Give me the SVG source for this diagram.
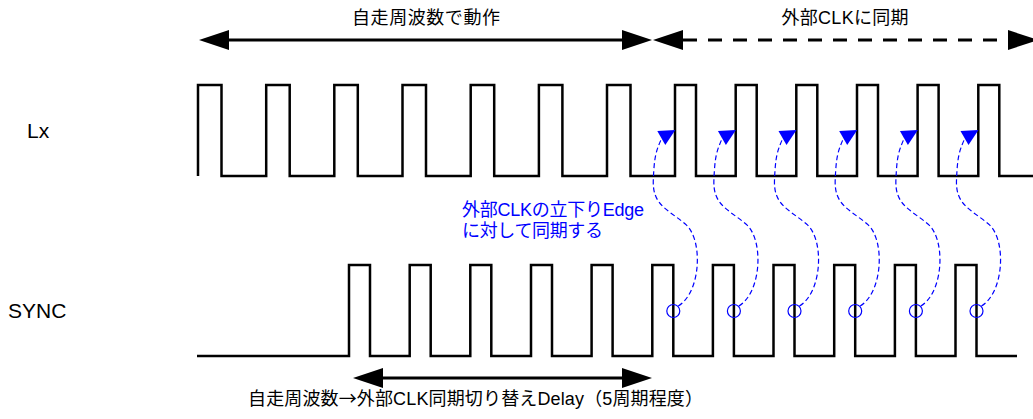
<svg xmlns="http://www.w3.org/2000/svg" xmlns:xlink="http://www.w3.org/1999/xlink" width="1033" height="419" viewBox="0 0 1033 419">
<style>
.wave{fill:none;stroke:#000;stroke-width:2.5;stroke-linejoin:miter}
.span{fill:none;stroke:#000;stroke-width:3}
.dash{stroke-dasharray:14,11}
.lbl{font-family:"Liberation Sans","Noto Sans CJK JP",sans-serif;font-size:18px;fill:#000}
.cjk{font-family:"Noto Sans CJK JP",sans-serif}
.sig{font-family:"Liberation Sans",Arial,sans-serif;font-size:21px;fill:#000}
.note{font-family:"Liberation Sans","Noto Sans CJK JP",sans-serif;font-size:18px;fill:#0000FF}
.blue{fill:none;stroke:#0000FF;stroke-width:1.2}
.bdash{stroke-dasharray:5,3}
</style>
<defs>
<marker id="ah" markerUnits="userSpaceOnUse" markerWidth="30" markerHeight="20" refX="0" refY="10" orient="auto-start-reverse" overflow="visible">
<path d="M0,0 L30,10 L0,20 Z" fill="#000"/>
</marker>
<g id="syncmark">
<circle class="blue" cx="0" cy="0" r="6.5"/>
<path class="blue bdash" d="M5,-5 C28,-19 30,-72 12,-87 S-21,-106 -20,-131 S-17,-160 -12,-172"/>
<path d="M2,-181 L-16,-180 L-8,-166 Z" fill="#0000FF"/>
</g>
</defs>

<g id="label-free">
<text class="lbl" x="426" y="24" text-anchor="middle" textLength="148">自走周波数で動作</text>
</g>
<g id="label-sync">
<text class="lbl" x="845" y="24" text-anchor="middle" textLength="127">外部CLKに同期</text>
</g>
<g id="label-lx"><text class="sig" x="27" y="138">Lx</text></g>
<g id="label-sync-signal"><text class="sig" x="8" y="318">SYNC</text></g>
<g id="note">
<text class="note" x="462" y="216" textLength="182">外部CLKの立下りEdge</text>
<text class="note" x="462" y="237" textLength="141">に対して同期する</text>
</g>
<g id="label-delay">
<text class="lbl" x="475.5" y="405" text-anchor="middle" textLength="455">自走周波数<tspan class="cjk">→</tspan>外部CLK同期切り替えDelay（5周期程度）</text>
</g>

<g id="wave-lx">
<path class="wave" d="M198,176 V85 H221.5 V176 H266.2 V85 H289.7 V176 H334.3 V85 H357.8 V176 H402.5 V85 H426 V176 H470.7 V85 H494.2 V176 H538.9 V85 H562.4 V176 H607 V85 H630.5 V176 H675 V85 H696 V176 H735.7 V85 H756.7 V176 H796.3 V85 H817.3 V176 H857 V85 H878 V176 H917.6 V85 H938.6 V176 H978.3 V85 H999.3 V176 H1034"/>
</g>
<g id="wave-sync">
<path class="wave" d="M197,356 H349 V265 H370 V356 H409.7 V265 H430.7 V356 H470.3 V265 H491.3 V356 H531 V265 H552 V356 H591.6 V265 H612.6 V356 H652.3 V265 H673.3 V356 H712.9 V265 H733.9 V356 H773.5 V265 H794.5 V356 H834.2 V265 H855.2 V356 H894.9 V265 H915.9 V356 H955.5 V265 H976.5 V356 H1017"/>
</g>

<g id="connectors">
<path class="span" d="M229,40 H622" marker-start="url(#ah)" marker-end="url(#ah)"/>
<path class="span dash" d="M683,40 H1008" marker-start="url(#ah)" marker-end="url(#ah)"/>
<path class="span" d="M383,378 H622" marker-start="url(#ah)" marker-end="url(#ah)"/>
<use xlink:href="#syncmark" transform="translate(673.3,311)"/>
<use xlink:href="#syncmark" transform="translate(733.9,311)"/>
<use xlink:href="#syncmark" transform="translate(794.5,311)"/>
<use xlink:href="#syncmark" transform="translate(855.2,311)"/>
<use xlink:href="#syncmark" transform="translate(915.9,311)"/>
<use xlink:href="#syncmark" transform="translate(976.5,311)"/>
</g>
</svg>
